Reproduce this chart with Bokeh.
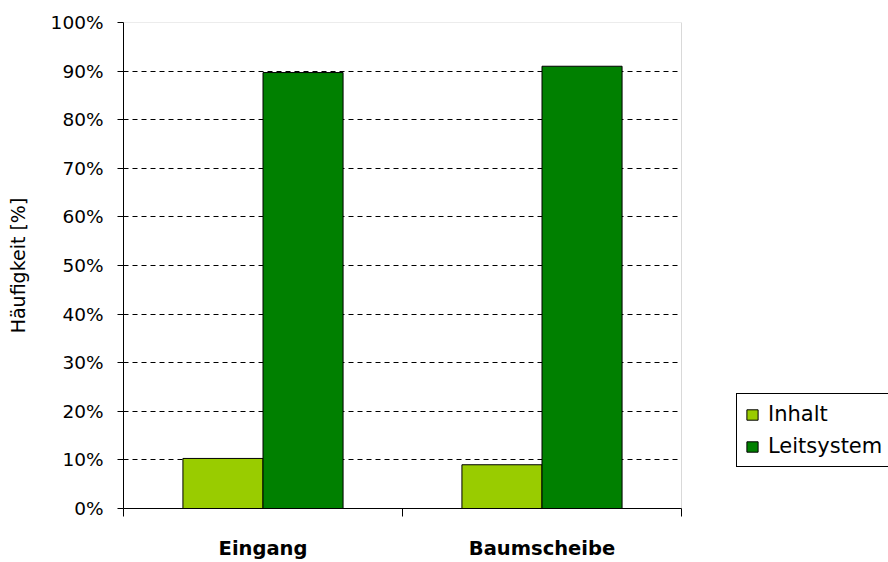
from bokeh.plotting import figure
from bokeh.models import (ColumnDataSource, FixedTicker, NumeralTickFormatter,
                          Legend, LegendItem, Range1d, LinearAxis, Grid, BoxAnnotation)
from bokeh.embed import file_html
from bokeh.resources import INLINE
import numpy as np

# Data: share of answers per location, in percent
categories = ["Eingang", "Baumscheibe"]
inhalt = [10.3, 9.0]
leitsystem = [89.7, 91.0]
series_names = ["Inhalt", "Leitsystem"]
series_colors = ["#99CC00", "#008000"]
y_ticks = [0, 10, 20, 30, 40, 50, 60, 70, 80, 90, 100]

FONT = "DejaVu Sans"

n = len(categories)
centers = np.arange(n) + 0.5
bar_w = 0.287

# The frame runs to the right edge so the legend can sit beside the plot area;
# the plot area itself covers x in [0, n].
FRAME_W = 765
PLOT_W = 558
x_end = n * FRAME_W / PLOT_W

src_a = ColumnDataSource(dict(x=centers - bar_w / 2, top=[v / 100 for v in inhalt]))
src_b = ColumnDataSource(dict(x=centers + bar_w / 2, top=[v / 100 for v in leitsystem]))

p = figure(width=888, height=562, output_backend="svg", toolbar_location=None,
           x_range=Range1d(0, x_end), y_range=Range1d(0, 1),
           min_border_left=123, min_border_right=0, min_border_top=22,
           min_border_bottom=54, x_axis_type=None, y_axis_type=None)
p.background_fill_color = "white"
p.border_fill_color = "white"
p.outline_line_color = None

# dashed horizontal grid lines limited to the plot area
grid = Grid(dimension=1, ticker=FixedTicker(ticks=[t / 100 for t in y_ticks[1:-1]]),
            cross_bounds=(0, n))
grid.grid_line_color = "black"
grid.grid_line_dash = "5 4"
grid.grid_line_width = 1
p.add_layout(grid, "center")

# grey border of the plot area
p.add_layout(BoxAnnotation(left=0, right=n, bottom=0, top=1, fill_alpha=0,
                           line_color="#808080", line_width=1, level="underlay"))

r_a = p.vbar(x="x", top="top", width=bar_w, source=src_a, fill_color=series_colors[0],
             line_color="black", line_width=1)
r_b = p.vbar(x="x", top="top", width=bar_w, source=src_b, fill_color=series_colors[1],
             line_color="black", line_width=1)

# y axis with percent labels
yax = LinearAxis(ticker=FixedTicker(ticks=[t / 100 for t in y_ticks]),
                 formatter=NumeralTickFormatter(format="0%"))
yax.axis_label = "Häufigkeit [%]"
yax.axis_label_text_font = FONT
yax.axis_label_text_font_size = "19px"
yax.axis_label_text_font_style = "normal"
yax.axis_label_text_color = "black"
yax.axis_label_standoff = 19
yax.major_label_text_font = FONT
yax.major_label_text_font_size = "18.5px"
yax.major_label_text_color = "black"
yax.major_label_standoff = 14
yax.major_tick_out = 6
yax.major_tick_in = 0
yax.minor_tick_out = 0
yax.minor_tick_in = 0
yax.axis_line_color = "black"
yax.major_tick_line_color = "black"
p.add_layout(yax, "left")

# x axis: labels at category centres, tick marks at the category boundaries
xax = LinearAxis(ticker=FixedTicker(ticks=list(centers), minor_ticks=list(range(n + 1))),
                 bounds=(0, n))
xax.major_label_overrides = {float(c): name for c, name in zip(centers, categories)}
xax.major_label_text_font = FONT
xax.major_label_text_font_size = "19.5px"
xax.major_label_text_font_style = "bold"
xax.major_label_text_color = "black"
xax.major_label_standoff = 20
xax.major_tick_out = 0
xax.major_tick_in = 0
xax.minor_tick_out = 8
xax.minor_tick_in = 0
xax.minor_tick_line_color = "black"
xax.axis_line_color = "black"
p.add_layout(xax, "below")

legend = Legend(items=[LegendItem(label=series_names[0], renderers=[r_a]),
                       LegendItem(label=series_names[1], renderers=[r_b])],
                location=(613, 41))
legend.label_text_font = FONT
legend.label_text_font_size = "21px"
legend.label_text_color = "black"
legend.glyph_width = 14
legend.glyph_height = 13
legend.label_standoff = 9
legend.spacing = 8
legend.padding = 8
legend.margin = 0
legend.border_line_color = "black"
legend.border_line_alpha = 1
legend.border_line_width = 1
legend.background_fill_color = "white"
legend.background_fill_alpha = 1
p.add_layout(legend, "center")

open("out.html", "w").write(file_html(p, INLINE))
